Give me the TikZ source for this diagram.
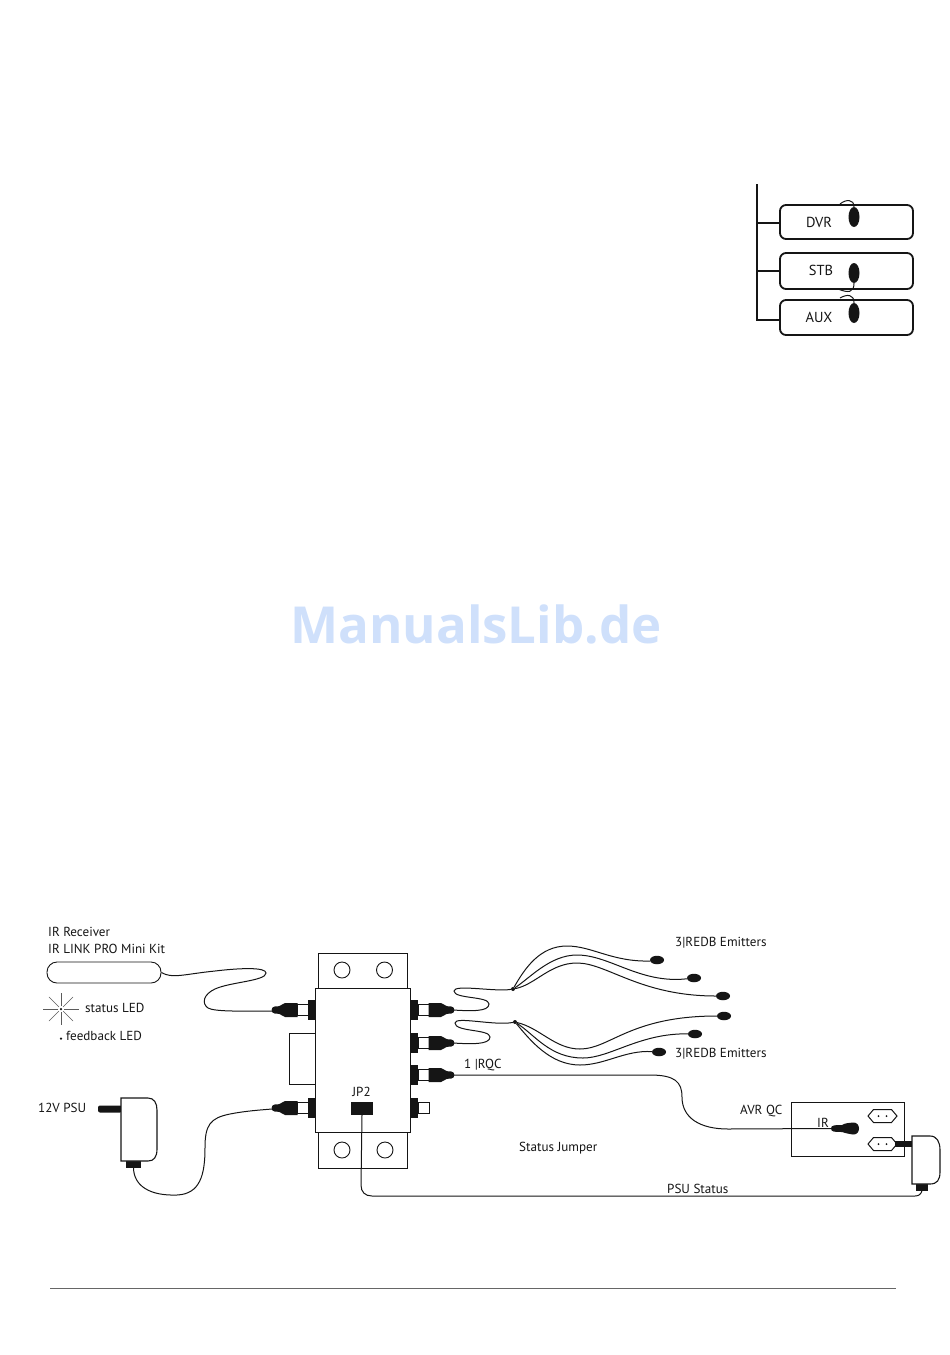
\documentclass[tikz,border=0pt]{standalone}
\usepackage{fontspec}
\usetikzlibrary{shapes.geometric}
\setmainfont{PT Sans}
\newfontfamily\wmfont[BoldFont={Open Sans Bold}]{Open Sans}
\definecolor{wmblue}{HTML}{CFE0FB}
\definecolor{inkc}{HTML}{151515}
\tikzset{
  box/.style={draw=inkc,line width=.9pt,fill=white},
  wire/.style={draw=inkc,line width=1pt},
  lbl/.style={inner sep=0pt,anchor=west,font=\fontsize{13.1}{15}\selectfont,text=inkc},
  devlbl/.style={inner sep=0pt,anchor=center,font=\fontsize{13.1}{15}\selectfont,text=inkc},
  bigdevlbl/.style={inner sep=0pt,anchor=center,font=\fontsize{14.5}{16}\selectfont,text=inkc},
  emit/.style={ellipse,fill=inkc,minimum width=14pt,minimum height=8.5pt,inner sep=0pt},
  vemit/.style={ellipse,fill=inkc,minimum width=11pt,minimum height=20pt,inner sep=0pt},
  hub/.style={circle,fill=inkc,minimum size=4pt,inner sep=0pt},
  hole/.style={circle,draw=inkc,line width=.9pt,minimum size=16pt,inner sep=0pt},
  devbox/.style={draw=inkc,line width=1.8pt,rounded corners=6pt,fill=white},
}
\newcommand{\socketjack}[3]{%
  \begin{scope}[shift={(#1,#2)},xscale=#3]
    \fill[inkc] (-8,-10) rectangle (0,10);
    \draw[inkc,line width=1pt,fill=white] (-19,-5.5) rectangle (-8,5.5);
  \end{scope}}
\newcommand{\pluggedjack}[3]{%
  \socketjack{#1}{#2}{#3}%
  \begin{scope}[shift={(#1,#2)},xscale=#3]
    \fill[inkc] (-18.5,-7) -- (-31,-7) .. controls (-33,-7) and (-35,-3.8) .. (-37,-3.8)
      -- (-41,-3.6) .. controls (-45.5,-3.6) and (-45.5,3.6) .. (-41,3.6)
      -- (-37,3.8) .. controls (-35,3.8) and (-33,7) .. (-31,7) -- (-18.5,7) -- cycle;
  \end{scope}}
\newcommand{\socketshape}[2]{%
  \draw[inkc,line width=1pt,fill=white] (#1-14.5,#2) -- (#1-9,#2-6.5) -- (#1+9,#2-6.5) -- (#1+14.5,#2) -- (#1+9,#2+6.5) -- (#1-9,#2+6.5) -- cycle;
  \fill[inkc] (#1-4,#2) circle (1pt) (#1+4,#2) circle (1pt);}
\begin{document}
\begin{tikzpicture}[x=1pt,y=-1pt]
\useasboundingbox (0,0) rectangle (950,1355);

% watermark
\node[inner sep=0pt,text=wmblue,font=\wmfont\bfseries\fontsize{51}{54}\selectfont] (wm) at (476,624) {ManualsLib.de};

% top-right excerpt
\coordinate (bustop) at (757,184);
\coordinate (busend) at (757,320);
\node[devbox,minimum width=133pt,minimum height=34pt,inner sep=0pt] (dvr) at (846.5,222) {};
\node[devbox,minimum width=133pt,minimum height=36pt,inner sep=0pt] (stb) at (846.5,271) {};
\node[devbox,minimum width=133pt,minimum height=35pt,inner sep=0pt] (aux) at (846.5,317.5) {};
\draw[inkc,line width=1.5pt] (bustop) -- (busend) -- (aux.west |- busend);
\draw[inkc,line width=1.5pt] (757,223) -- (dvr.west |- 757,223);
\draw[inkc,line width=1.2pt] (757,271) -- (stb.west);
\draw[inkc,line width=2.4pt] (786,239) -- (907,239);
\node[bigdevlbl] (dvrl) at (819,222.5) {DVR};
\node[bigdevlbl] (stbl) at (821,270.5) {STB};
\node[bigdevlbl] (auxl) at (819,317.5) {AUX};
\node[vemit] (dvre) at (854,217) {};
\node[vemit] (stbe) at (854,273) {};
\node[vemit] (auxe) at (854,313) {};
\draw[wire] (840,204) .. controls (846,199) and (854,199) .. (dvre.north);
\draw[wire] (stbe.south) .. controls (854,293) and (848,293) .. (838,289);
\draw[wire] (840,298) .. controls (847,294) and (854,294) .. (auxe.north);

% main unit
\node[box,minimum width=89pt,minimum height=35pt,inner sep=0pt] (topmount) at (362.5,970.5) {};
\node[box,minimum width=89pt,minimum height=36pt,inner sep=0pt] (botmount) at (362.5,1150) {};
\node[box,minimum width=26pt,minimum height=51pt,inner sep=0pt] (sidebox) at (302,1058.5) {};
\node[box,minimum width=95pt,minimum height=144pt,inner sep=0pt] (unit) at (362.5,1060) {};
\node[hole] (h1) at (342,970) {};
\node[hole] (h2) at (384.5,970) {};
\node[hole] (h3) at (342,1150) {};
\node[hole] (h4) at (385,1150) {};
\node[fill=inkc,minimum width=22pt,minimum height=13pt,inner sep=0pt] (jp2) at (362,1108.5) {};
\node[devlbl] (jp2l) at (361.5,1091.5) {JP2};

\pluggedjack{316}{1010}{1}
\pluggedjack{316}{1108}{1}
\pluggedjack{410}{1010}{-1}
\pluggedjack{410}{1043}{-1}
\pluggedjack{410}{1075}{-1}
\socketjack{410}{1108}{-1}

\coordinate (jl1) at (272,1011);
\coordinate (jl2) at (272,1109);
\coordinate (jr1) at (453,1010);
\coordinate (jr2) at (453,1043);
\coordinate (jr3) at (453,1075);

% IR receiver
\node[box,rounded corners=10pt,minimum width=114pt,minimum height=21pt,inner sep=0pt] (irrx) at (104,972.5) {};
\draw[wire] (irrx.east) .. controls (172,979) and (185,974) .. (215,971)
  .. controls (240,968) and (266,967) .. (266,973)
  .. controls (266,981) and (230,982) .. (215,989)
  .. controls (204,994) and (201,1003) .. (208,1008)
  .. controls (215,1012) and (245,1011) .. (jl1);
\node[lbl] (t1) at (48,931.5) {IR Receiver};
\node[lbl] (t2) at (48,948.5) {IR LINK PRO Mini Kit};
\node[lbl] (t3) at (85,1007.5) {status LED};
\node[lbl] (t4) at (66,1035.5) {feedback LED};
\node[hub,minimum size=2.5pt] (led) at (61,1009) {};
\foreach \a/\r in {0/18,45/17,90/16,135/17,180/18,225/17,270/16,315/17}
  \draw[inkc!70,line width=.4pt] (led) ++(\a:3) -- ++(\a:\r-3);
\node[hub,minimum size=2.5pt] (fled) at (61,1038.5) {};

% 12V PSU
\node[lbl] (t5) at (38,1107.5) {12V PSU};
\fill[inkc,rounded corners=2pt] (98,1105.5) rectangle (122,1112.5);
\node[fill=inkc,minimum width=15pt,minimum height=8pt,inner sep=0pt] (lfoot) at (133.5,1164) {};
\draw[box,line width=1.1pt] (121,1098) -- (148,1098) .. controls (154,1098) and (157,1103) .. (157,1110)
  -- (157,1149) .. controls (157,1157) and (154,1161) .. (148,1161) -- (121,1161) -- cycle;
\draw[wire] (lfoot.south) .. controls (134,1186) and (150,1196) .. (177,1195)
  .. controls (200,1194) and (205,1175) .. (205,1148)
  .. controls (205,1125) and (210,1118) .. (230,1114)
  .. controls (245,1111) and (260,1110) .. (jl2);

% emitter harnesses
\node[hub] (hubu) at (513,989) {};
\node[hub] (hubl) at (515,1022) {};
\node[emit] (e1) at (657,960) {};
\node[emit] (e2) at (694,978) {};
\node[emit] (e3) at (723,996) {};
\node[emit] (e4) at (724,1016) {};
\node[emit] (e5) at (695,1034) {};
\node[emit] (e6) at (659,1052) {};

\draw[wire] (jr1) .. controls (470,1011) and (489,1012) .. (489,1004)
  .. controls (489,996) and (454,999) .. (454,991)
  .. controls (454,984) and (495,992) .. (hubu);
\draw[wire] (jr2) .. controls (470,1044) and (490,1045) .. (490,1037)
  .. controls (490,1029) and (455,1032) .. (455,1023)
  .. controls (455,1016) and (495,1026) .. (hubl);

\draw[wire] (hubu) .. controls (525,968) and (540,946) .. (567,946)
  .. controls (592,946) and (612,962) .. (650,961) -- (e1);
\draw[wire] (hubu) .. controls (530,978) and (550,955) .. (577,955)
  .. controls (610,955) and (640,984) .. (e2);
\draw[wire] (hubu) .. controls (535,985) and (550,963) .. (577,963)
  .. controls (607,963) and (640,996) .. (e3);

\draw[wire] (hubl) .. controls (540,1028) and (555,1049) .. (580,1049)
  .. controls (610,1049) and (630,1016) .. (e4);
\draw[wire] (hubl) .. controls (535,1035) and (550,1058) .. (583,1058)
  .. controls (610,1058) and (640,1033) .. (e5);
\draw[wire] (hubl) .. controls (530,1040) and (550,1065) .. (580,1065)
  .. controls (605,1065) and (625,1050) .. (e6);
\node[lbl] (t6) at (675,942.5) {3|REDB Emitters};
\node[lbl] (t7) at (675,1053.5) {3|REDB Emitters};

% AVR
\node[lbl] (t8) at (464,1065.5) {1 |RQC};
\node[box,minimum width=113pt,minimum height=54pt,inner sep=0pt] (avr) at (847.5,1129) {};
\node[lbl] (t9) at (740,1111.5) {AVR QC};
\node[lbl] (t10) at (817,1122.5) {IR};
\socketshape{882.5}{1116}
\socketshape{882.5}{1144}
\coordinate (irtip) at (831,1128.5);
\draw[wire] (jr3) -- (650,1075) .. controls (675,1075) and (682,1082) .. (682,1097)
  .. controls (682,1118) and (700,1129) .. (728,1129) -- (irtip);
\fill[inkc] (irtip) .. controls (831,1125) and (835,1125) .. (842,1125)
  .. controls (845,1123) and (849,1123) .. (853,1122.5)
  .. controls (861,1122) and (861,1135) .. (853,1134.5)
  .. controls (849,1134) and (845,1133) .. (842,1132)
  .. controls (835,1132) and (831,1132) .. (irtip);

\fill[inkc] (895,1141) rectangle (913,1147);
\node[fill=inkc,minimum width=12pt,minimum height=7pt,inner sep=0pt] (rfoot) at (922,1187) {};
\draw[box,line width=1.1pt] (912,1136) -- (930,1136) .. controls (937,1136) and (940,1142) .. (940,1150)
  -- (940,1172) .. controls (940,1180) and (937,1184) .. (930,1184) -- (912,1184) -- cycle;
\draw[wire] (jp2.south) -- (361,1185) .. controls (361,1192) and (365,1196) .. (372,1196)
  -- (915,1196) .. controls (919,1196) and (921,1194) .. (rfoot.south);
\node[lbl] (t11) at (519,1148.5) {Status Jumper};
\node[lbl] (t12) at (667,1188.5) {PSU Status};

% footer rule
\coordinate (rulea) at (50,1288);
\coordinate (ruleb) at (896,1288);
\draw[draw=black!60,line width=1pt] (rulea) -- (ruleb);
\end{tikzpicture}
\end{document}
